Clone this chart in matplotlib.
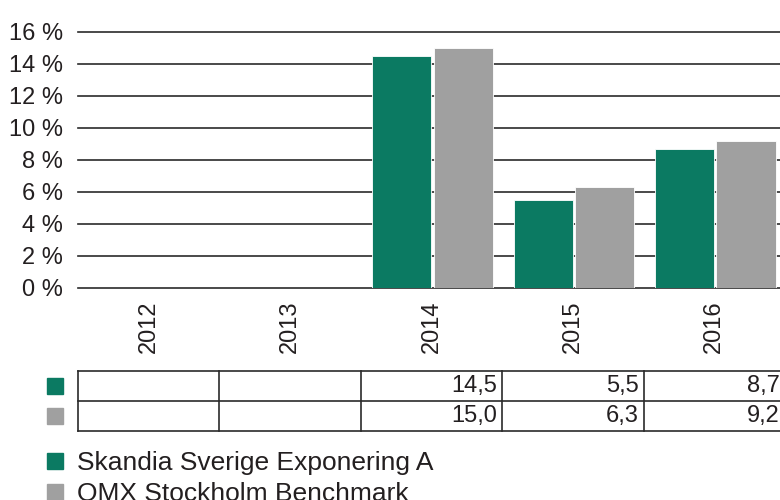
import matplotlib
matplotlib.use("Agg")
import matplotlib.pyplot as plt
from matplotlib.patches import Rectangle
import numpy as np

plt.rcParams['font.family'] = ['Liberation Sans', 'DejaVu Sans']

years = ['2012', '2013', '2014', '2015', '2016']
skandia = [np.nan, np.nan, 14.5, 5.5, 8.7]
omx = [np.nan, np.nan, 15.0, 6.3, 9.2]
series_names = ['Skandia Sverige Exponering A', 'OMX Stockholm Benchmark']
yticks = [0, 2, 4, 6, 8, 10, 12, 14, 16]

GREEN = '#0b7a62'
GRAY = '#a0a0a0'
TXT = '#231f20'
LINE = '#2a2a2a'
FS = 17
FS_LEG = 19

W, H = 780, 500
fig = plt.figure(figsize=(W / 100, H / 100), dpi=100)

def fx(px):
    return px / W

def fy(py):
    return 1 - py / H

left, right = 78, 785
top, bottom = 32, 288
ax = fig.add_axes([fx(left), fy(bottom), fx(right - left), (bottom - top) / H])
x = np.arange(len(years))
ax.bar(x - 0.21, skandia, width=0.42, color=GREEN, edgecolor='white', linewidth=0.6, zorder=3)
ax.bar(x + 0.225, omx, width=0.42, color=GRAY, edgecolor='white', linewidth=0.6, zorder=3)
ax.set_xlim(-0.5, len(years) - 0.5)
ax.set_ylim(0, 16)
ax.set_yticks(yticks)
ax.set_yticklabels([f'{v} %' for v in yticks], fontsize=FS, color=TXT)
ax.set_xticks(x)
ax.set_xticklabels(years, rotation=90, fontsize=FS, color=TXT, va='top')
ax.tick_params(axis='both', length=0)
ax.tick_params(axis='y', pad=11)
ax.tick_params(axis='x', pad=9)
for s in ax.spines.values():
    s.set_visible(False)
for v in yticks:
    ax.axhline(v, color=LINE, linewidth=1.2, zorder=1, clip_on=False)

# data table
t_top, t_bot = 371, 431
tax = fig.add_axes([fx(left), fy(t_bot), fx(right - left), (t_bot - t_top) / H])
tax.set_xlim(-0.5, len(years) - 0.5)
tax.set_ylim(0, 2)
tax.axis('off')
for yv in [0, 1, 2]:
    tax.plot([-0.5, len(years) - 0.5], [yv, yv], color=LINE, linewidth=1.2, clip_on=False)
for i in range(len(years) + 1):
    tax.plot([i - 0.5, i - 0.5], [0, 2], color=LINE, linewidth=1.2, clip_on=False)
for row, vals in enumerate([skandia, omx]):
    yc = 1.5 - row
    for i, v in enumerate(vals):
        if not np.isnan(v):
            tax.text(i + 0.465, yc, f'{v:.1f}'.replace('.', ','), ha='right', va='center',
                     fontsize=FS, color=TXT)

# table legend squares
fig.patches.append(Rectangle((fx(47), fy(394)), fx(16), 16 / H, color=GREEN, transform=fig.transFigure, figure=fig))
fig.patches.append(Rectangle((fx(47), fy(424)), fx(16), 16 / H, color=GRAY, transform=fig.transFigure, figure=fig))

# legend
for k, (name, col) in enumerate(zip(series_names, [GREEN, GRAY])):
    yc = 461 + 31 * k
    fig.patches.append(Rectangle((fx(47), fy(yc + 8)), fx(16), 16 / H, color=col,
                                 transform=fig.transFigure, figure=fig))
    fig.text(fx(77), fy(yc + 9), name, ha='left', va='baseline', fontsize=FS_LEG, color=TXT)

fig.savefig('out.png', dpi=100)
